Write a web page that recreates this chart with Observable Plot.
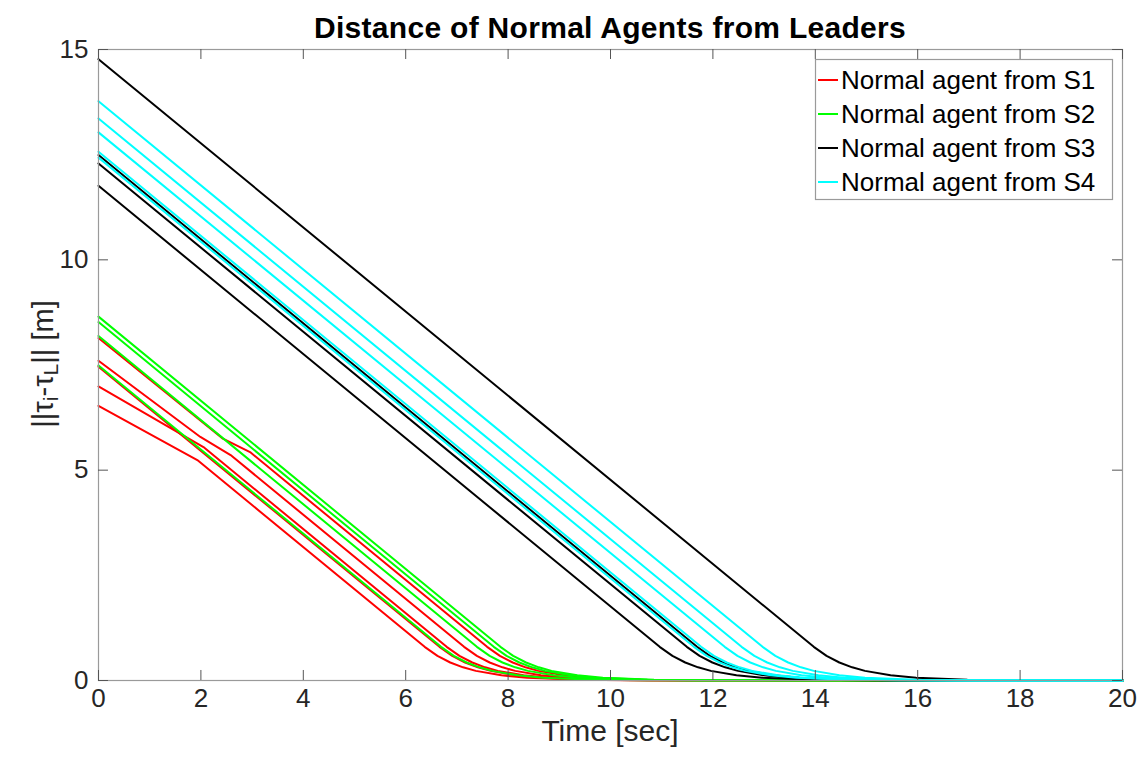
<!DOCTYPE html>
<html>
<head>
<meta charset="utf-8">
<script src="https://cdn.jsdelivr.net/npm/d3@7"></script>
<script src="https://cdn.jsdelivr.net/npm/@observablehq/plot@0.6"></script>
<style>
  html, body { margin: 0; padding: 0; background: #fff; }
  #chart { width: 1143px; height: 761px; }
</style>
</head>
<body>
<div id="chart"></div>
<script>
// ---- data ----
const legendLabels = ["Normal agent from S1", "Normal agent from S2", "Normal agent from S3", "Normal agent from S4"];
const seriesColors = ["#ff0000", "#00ff00", "#000000", "#00ffff"];
const xTicks = [0, 2, 4, 6, 8, 10, 12, 14, 16, 18, 20];
const yTicks = [0, 5, 10, 15];

// S1 agents (red): [time, distance]
const s1Series = [
  [[0,8.14],[2.43,5.75],[2.96,5.43],[7.59,0.8],[7.84,0.585],[8.09,0.428],[8.34,0.313],[8.59,0.229],[9.09,0.123],[9.59,0.066],[10.59,0.019],[11.59,0.005],[20,0]],
  [[0,7.60],[1.99,5.79],[2.58,5.36],[7.14,0.8],[7.39,0.585],[7.64,0.428],[7.89,0.313],[8.14,0.229],[8.64,0.123],[9.14,0.066],[10.14,0.019],[11.14,0.005],[20,0]],
  [[0,7.46],[6.66,0.8],[6.91,0.585],[7.16,0.428],[7.41,0.313],[7.66,0.229],[8.16,0.123],[8.66,0.066],[9.66,0.019],[10.66,0.005],[20,0]],
  [[0,6.99],[2.05,5.55],[6.80,0.8],[7.05,0.585],[7.30,0.428],[7.55,0.313],[7.80,0.229],[8.30,0.123],[8.80,0.066],[9.80,0.019],[10.80,0.005],[20,0]],
  [[0,6.53],[1.93,5.24],[6.37,0.8],[6.62,0.585],[6.87,0.428],[7.12,0.313],[7.37,0.229],[7.87,0.123],[8.37,0.066],[9.37,0.019],[10.37,0.005],[20,0]]
];
// S2 agents (green)
const s2Series = [
  [[0,8.65],[7.85,0.8],[8.10,0.585],[8.35,0.428],[8.60,0.313],[8.85,0.229],[9.35,0.123],[9.85,0.066],[10.85,0.019],[11.85,0.005],[20,0]],
  [[0,8.52],[7.72,0.8],[7.97,0.585],[8.22,0.428],[8.47,0.313],[8.72,0.229],[9.22,0.123],[9.72,0.066],[10.72,0.019],[11.72,0.005],[20,0]],
  [[0,8.19],[7.39,0.8],[7.64,0.585],[7.89,0.428],[8.14,0.313],[8.39,0.229],[8.89,0.123],[9.39,0.066],[10.39,0.019],[11.39,0.005],[20,0]],
  [[0,7.49],[6.69,0.8],[6.94,0.585],[7.19,0.428],[7.44,0.313],[7.69,0.229],[8.19,0.123],[8.69,0.066],[9.69,0.019],[10.69,0.005],[20,0]]
];
// S3 agents (black)
const s3Series = [
  [[0,14.77],[13.97,0.8],[14.22,0.585],[14.47,0.428],[14.72,0.313],[14.97,0.229],[15.47,0.123],[15.97,0.066],[16.97,0.019],[17.97,0.005],[20,0]],
  [[0,12.49],[11.69,0.8],[11.94,0.585],[12.19,0.428],[12.44,0.313],[12.69,0.229],[13.19,0.123],[13.69,0.066],[14.69,0.019],[15.69,0.005],[20,0]],
  [[0,12.29],[11.49,0.8],[11.74,0.585],[11.99,0.428],[12.24,0.313],[12.49,0.229],[12.99,0.123],[13.49,0.066],[14.49,0.019],[15.49,0.005],[20,0]],
  [[0,11.76],[10.96,0.8],[11.21,0.585],[11.46,0.428],[11.71,0.313],[11.96,0.229],[12.46,0.123],[12.96,0.066],[13.96,0.019],[14.96,0.005],[20,0]]
];
// S4 agents (cyan)
const s4Series = [
  [[0,13.77],[12.97,0.8],[13.22,0.585],[13.47,0.428],[13.72,0.313],[13.97,0.229],[14.47,0.123],[14.97,0.066],[15.97,0.019],[16.97,0.005],[20,0]],
  [[0,13.36],[12.56,0.8],[12.81,0.585],[13.06,0.428],[13.31,0.313],[13.56,0.229],[14.06,0.123],[14.56,0.066],[15.56,0.019],[16.56,0.005],[20,0]],
  [[0,13.03],[12.23,0.8],[12.48,0.585],[12.73,0.428],[12.98,0.313],[13.23,0.229],[13.73,0.123],[14.23,0.066],[15.23,0.019],[16.23,0.005],[20,0]],
  [[0,12.57],[11.77,0.8],[12.02,0.585],[12.27,0.428],[12.52,0.313],[12.77,0.229],[13.27,0.123],[13.77,0.066],[14.77,0.019],[15.77,0.005],[20,0]],
  [[0,12.43],[11.63,0.8],[11.88,0.585],[12.13,0.428],[12.38,0.313],[12.63,0.229],[13.13,0.123],[13.63,0.066],[14.63,0.019],[15.63,0.005],[20,0]]
];

// ---- build table ----
const groups = [s1Series, s2Series, s3Series, s4Series];
const rows = [];
groups.forEach((g, gi) => g.forEach((s, si) => s.forEach(([t, v]) =>
  rows.push({t, v, group: legendLabels[gi], id: gi + "-" + si}))));

const FONT = "'Liberation Sans', Arial, Helvetica, sans-serif";
const TXT = "#262626";
const FRAME = "#9a9a9a";

const chart = Plot.plot({
  width: 1143,
  height: 761,
  marginLeft: 98,
  marginRight: 21,
  marginTop: 49,
  marginBottom: 81,
  style: {fontFamily: FONT, background: "#fff", overflow: "visible"},
  x: {domain: [0, 20]},
  y: {domain: [0, 15]},
  color: {domain: legendLabels, range: seriesColors},
  marks: [
    Plot.line(rows, {x: "t", y: "v", z: "id", stroke: "group", strokeWidth: 2, curve: "linear"}),
    Plot.frame({stroke: FRAME, strokeWidth: 1.2}),
    // inward ticks (bottom/top, left/right)
    Plot.ruleX(xTicks, {x: d => d, y1: 0, y2: 0.238, stroke: "#555"}),
    Plot.ruleX(xTicks, {x: d => d, y1: 15, y2: 14.762, stroke: "#555"}),
    Plot.ruleY(yTicks, {y: d => d, x1: 0, x2: 0.195, stroke: "#555"}),
    Plot.ruleY(yTicks, {y: d => d, x1: 20, x2: 19.805, stroke: "#555"}),
    Plot.axisX({ticks: xTicks, tickSize: 0, tickPadding: 8, fontSize: 26, fill: TXT, label: null, tickFormat: d => String(d)}),
    Plot.axisY({ticks: yTicks, tickSize: 0, tickPadding: 10, fontSize: 26, fill: TXT, label: null, tickFormat: d => String(d)})
  ]
});
document.getElementById("chart").appendChild(chart);

// ---- titles, labels, legend ----
const svg = d3.select(chart);
svg.append("text")
  .attr("x", 610).attr("y", 38)
  .attr("text-anchor", "middle")
  .style("font-family", FONT).style("font-size", "30px").style("font-weight", "bold")
  .style("letter-spacing", "0.3px")
  .attr("fill", "#000")
  .text("Distance of Normal Agents from Leaders");

svg.append("text")
  .attr("x", 610).attr("y", 741)
  .attr("text-anchor", "middle")
  .style("font-family", FONT).style("font-size", "30px")
  .attr("fill", TXT)
  .text("Time [sec]");

const yl = svg.append("text")
  .attr("transform", "translate(53,364) rotate(-90)")
  .attr("text-anchor", "middle")
  .style("font-family", FONT).style("font-size", "29px")
  .attr("fill", TXT);
yl.append("tspan").text("||τ");
yl.append("tspan").attr("baseline-shift", "-25%").style("font-size", "21px").text("i");
yl.append("tspan").text("-τ");
yl.append("tspan").attr("baseline-shift", "-25%").style("font-size", "21px").text("L");
yl.append("tspan").text("|| [m]");

const lg = svg.append("g");
lg.append("rect")
  .attr("x", 815.5).attr("y", 59.5).attr("width", 297).attr("height", 140)
  .attr("fill", "#fff").attr("stroke", FRAME).attr("stroke-width", 1.2);
const rowY = [80, 114, 148, 182];
legendLabels.forEach((lab, i) => {
  lg.append("line")
    .attr("x1", 818).attr("x2", 838).attr("y1", rowY[i]).attr("y2", rowY[i])
    .attr("stroke", seriesColors[i]).attr("stroke-width", 2);
  lg.append("text")
    .attr("x", 841).attr("y", rowY[i]).attr("dy", "0.36em")
    .attr("text-anchor", "start")
    .style("font-family", FONT).style("font-size", "26px")
    .attr("fill", "#000")
    .text(lab);
});
</script>
</body>
</html>
